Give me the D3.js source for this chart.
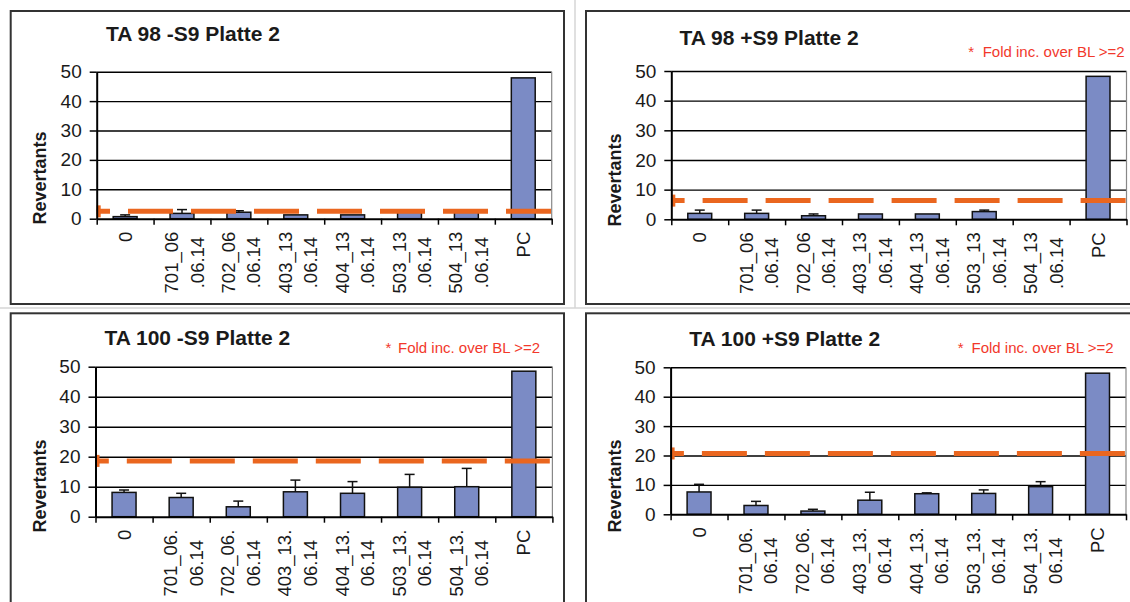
<!DOCTYPE html>
<html>
<head>
<meta charset="utf-8">
<script src="https://cdn.jsdelivr.net/npm/d3@7"></script>
<style>
  body { margin: 0; background: #fff; }
  svg text { font-family: "Liberation Sans", Arial, sans-serif; fill: #1a1a1a; }
</style>
</head>
<body>
<svg id="chart" width="1130" height="602"></svg>
<script>
// categories (line breaks as in the original axis labels)
const categoriesTop = ["0", "701_06\n.06.14", "702_06\n.06.14", "403_13\n.06.14", "404_13\n.06.14", "503_13\n.06.14", "504_13\n.06.14", "PC"];
const categoriesBottom = ["0", "701_06.\n06.14", "702_06.\n06.14", "403_13.\n06.14", "404_13.\n06.14", "503_13.\n06.14", "504_13.\n06.14", "PC"];
const yTicks = [0, 10, 20, 30, 40, 50];

// TA 98 -S9
const ta98MinusMeans = [0.7, 1.8, 2.2, 1.3, 1.3, 2.2, 2.2, 47.9];
const ta98MinusErrs  = [0.6, 1.3, 0.5, 0, 0, 0, 0, 0];
const ta98MinusBL = 2.5;
// TA 98 +S9
const ta98PlusMeans = [2.0, 2.0, 1.2, 1.8, 1.8, 2.6, 0, 48.2];
const ta98PlusErrs  = [1.1, 1.1, 0.6, 0, 0, 0.5, 0, 0];
const ta98PlusBL = 6.3;
// TA 100 -S9
const ta100MinusMeans = [8.1, 6.4, 3.3, 8.3, 7.8, 9.8, 10.0, 48.5];
const ta100MinusErrs  = [0.8, 1.4, 1.9, 3.9, 3.9, 4.3, 6.1, 0];
const ta100MinusBL = 18.6;
// TA 100 +S9
const ta100PlusMeans = [7.6, 3.0, 1.1, 4.8, 7.0, 7.1, 9.4, 48.0];
const ta100PlusErrs  = [2.6, 1.4, 0.6, 2.7, 0.3, 1.2, 1.7, 0];
const ta100PlusBL = 20.7;

const noteText = "Fold inc. over BL >=2";

const panels = [
  { title: "TA 98 -S9 Platte 2", cats: categoriesTop, means: ta98MinusMeans, errs: ta98MinusErrs, bl: ta98MinusBL,
    box: [10.7, 11, 564, 304], plot: { l: 96.7, r: 551.7, t: 71.7, b: 218.7 },
    titleAt: [106, 40.7], note: null, yTitleAt: [39.3, 178] },
  { title: "TA 98 +S9 Platte 2", cats: categoriesTop, means: ta98PlusMeans, errs: ta98PlusErrs, bl: ta98PlusBL,
    box: [586, 11, 1140, 304], plot: { l: 671.3, r: 1126.5, t: 71, b: 219.3 },
    titleAt: [679.6, 45], note: [968.3, 982.7, 57.3], yTitleAt: [614.7, 180] },
  { title: "TA 100 -S9 Platte 2", cats: categoriesBottom, means: ta100MinusMeans, errs: ta100MinusErrs, bl: ta100MinusBL,
    box: [10.7, 313.3, 564, 612], plot: { l: 95.5, r: 552.4, t: 366.7, b: 516.7 },
    titleAt: [104.5, 345], note: [385.6, 398, 353], yTitleAt: [39.6, 486] },
  { title: "TA 100 +S9 Platte 2", cats: categoriesBottom, means: ta100PlusMeans, errs: ta100PlusErrs, bl: ta100PlusBL,
    box: [586, 313.3, 1140, 612], plot: { l: 670.6, r: 1126, t: 367.3, b: 514.3 },
    titleAt: [689.3, 345.7], note: [957.8, 971.5, 353.3], yTitleAt: [614.7, 486] }
];

const svg = d3.select("#chart");

// faint page separators
svg.append("line").attr("x1", 575).attr("x2", 575).attr("y1", 0).attr("y2", 308)
  .attr("stroke", "#d6d6d6").attr("stroke-width", 1.5);
svg.append("line").attr("x1", 0).attr("x2", 1130).attr("y1", 308).attr("y2", 308)
  .attr("stroke", "#d6d6d6").attr("stroke-width", 1.5);

panels.forEach(drawPanel);

function drawPanel(p) {
  const g = svg.append("g");
  const n = p.cats.length;

  g.append("rect")
    .attr("x", p.box[0]).attr("y", p.box[1])
    .attr("width", p.box[2] - p.box[0]).attr("height", p.box[3] - p.box[1])
    .attr("fill", "#fff").attr("stroke", "#333").attr("stroke-width", 2);

  const x = d3.scaleBand()
    .domain(p.cats)
    .range([p.plot.l, p.plot.r])
    .paddingInner(0.58)
    .paddingOuter(0.29);
  const xEdge = d3.scaleLinear().domain([0, n]).range([p.plot.l, p.plot.r]);
  const y = d3.scaleLinear().domain([0, 50]).range([p.plot.b, p.plot.t]);

  // gridlines
  g.append("g")
    .attr("transform", "translate(" + p.plot.l + ",0)")
    .call(d3.axisLeft(y).tickValues(yTicks.slice(1)).tickSize(-(p.plot.r - p.plot.l)).tickFormat(""))
    .call(s => s.select(".domain").remove())
    .selectAll("line").attr("stroke", "#000").attr("stroke-width", 1.4);

  // right edge of plot area
  g.append("line")
    .attr("x1", p.plot.r).attr("x2", p.plot.r).attr("y1", y(50)).attr("y2", y(0))
    .attr("stroke", "#888").attr("stroke-width", 1.2);

  // bars
  g.selectAll(".bar")
    .data(p.means.map((v, i) => ({ cat: p.cats[i], v: v, e: p.errs[i] })).filter(d => d.v > 0))
    .enter().append("rect")
    .attr("x", d => x(d.cat))
    .attr("y", d => y(d.v))
    .attr("width", x.bandwidth())
    .attr("height", d => y(0) - y(d.v))
    .attr("fill", "#7b8bc5")
    .attr("stroke", "#111")
    .attr("stroke-width", 1.5);

  // error bars (plus direction)
  const errData = p.means.map((v, i) => ({ cat: p.cats[i], v: v, e: p.errs[i] })).filter(d => d.e > 0);
  const eb = g.selectAll(".err").data(errData).enter().append("g");
  eb.append("line")
    .attr("x1", d => x(d.cat) + x.bandwidth() / 2).attr("x2", d => x(d.cat) + x.bandwidth() / 2)
    .attr("y1", d => y(d.v)).attr("y2", d => y(d.v + d.e))
    .attr("stroke", "#111").attr("stroke-width", 1.5);
  eb.append("line")
    .attr("x1", d => x(d.cat) + x.bandwidth() / 2 - 5).attr("x2", d => x(d.cat) + x.bandwidth() / 2 + 5)
    .attr("y1", d => y(d.v + d.e)).attr("y2", d => y(d.v + d.e))
    .attr("stroke", "#111").attr("stroke-width", 1.5);

  // baseline threshold line
  const line = d3.line().x(d => xEdge(d[0])).y(d => y(d[1]));
  g.append("path")
    .datum([[0, p.bl], [n, p.bl]])
    .attr("d", line)
    .attr("fill", "none")
    .attr("stroke", "#ea661f")
    .attr("stroke-width", 5)
    .attr("stroke-dasharray", "45,18")
    .attr("stroke-dashoffset", 31.7);
  g.append("rect")
    .attr("x", xEdge(0)).attr("y", y(p.bl) - 6)
    .attr("width", 4).attr("height", 12)
    .attr("fill", "#ea661f");

  // y axis
  const yAxis = g.append("g")
    .attr("transform", "translate(" + p.plot.l + ",0)")
    .call(d3.axisLeft(y).tickValues(yTicks).tickSize(7).tickSizeOuter(0).tickPadding(8));
  yAxis.select(".domain").attr("stroke", "#000").attr("stroke-width", 2);
  yAxis.selectAll("line").attr("stroke", "#000").attr("stroke-width", 1.5);
  yAxis.selectAll("text").attr("font-size", 19).attr("fill", "#1a1a1a")
    .style("font-family", '"Liberation Sans", Arial, sans-serif');

  // x axis with ticks between categories
  const xAxis = g.append("g")
    .attr("transform", "translate(0," + p.plot.b + ")")
    .call(d3.axisBottom(xEdge).tickValues(d3.range(n + 1)).tickSize(6).tickSizeOuter(0).tickFormat(""));
  xAxis.select(".domain").attr("stroke", "#000").attr("stroke-width", 2);
  xAxis.selectAll("line").attr("stroke", "#000").attr("stroke-width", 1.5);

  // category labels, rotated, lines centred within block
  p.cats.forEach(c => {
    const lines = c.split("\n");
    const cx = x(c) + x.bandwidth() / 2;
    const lg = g.append("g")
      .attr("transform", "translate(" + cx + "," + (p.plot.b + 13) + ") rotate(-90)");
    const texts = lines.map((t, i) => lg.append("text")
      .attr("font-size", 18.5)
      .attr("text-anchor", "middle")
      .attr("y", lines.length === 1 ? 6.6 : (i === 0 ? -4 : 21.5))
      .text(t));
    const maxLen = d3.max(texts, t => t.node().getComputedTextLength());
    texts.forEach(t => t.attr("x", -maxLen / 2));
  });

  // titles
  g.append("text")
    .attr("x", p.titleAt[0]).attr("y", p.titleAt[1])
    .attr("font-size", 21).attr("font-weight", "bold")
    .text(p.title);

  g.append("text")
    .attr("transform", "translate(" + p.yTitleAt[0] + "," + p.yTitleAt[1] + ") rotate(-90)")
    .attr("text-anchor", "middle")
    .attr("dy", "0.35em")
    .attr("font-size", 18).attr("font-weight", "bold")
    .text("Revertants");

  if (p.note) {
    g.append("text")
      .attr("x", p.note[0]).attr("y", p.note[2])
      .attr("font-size", 15).style("fill", "#f2382b")
      .text("*");
    g.append("text")
      .attr("x", p.note[1]).attr("y", p.note[2])
      .attr("font-size", 15).style("fill", "#f2382b")
      .text(noteText);
  }
}
</script>
</body>
</html>
